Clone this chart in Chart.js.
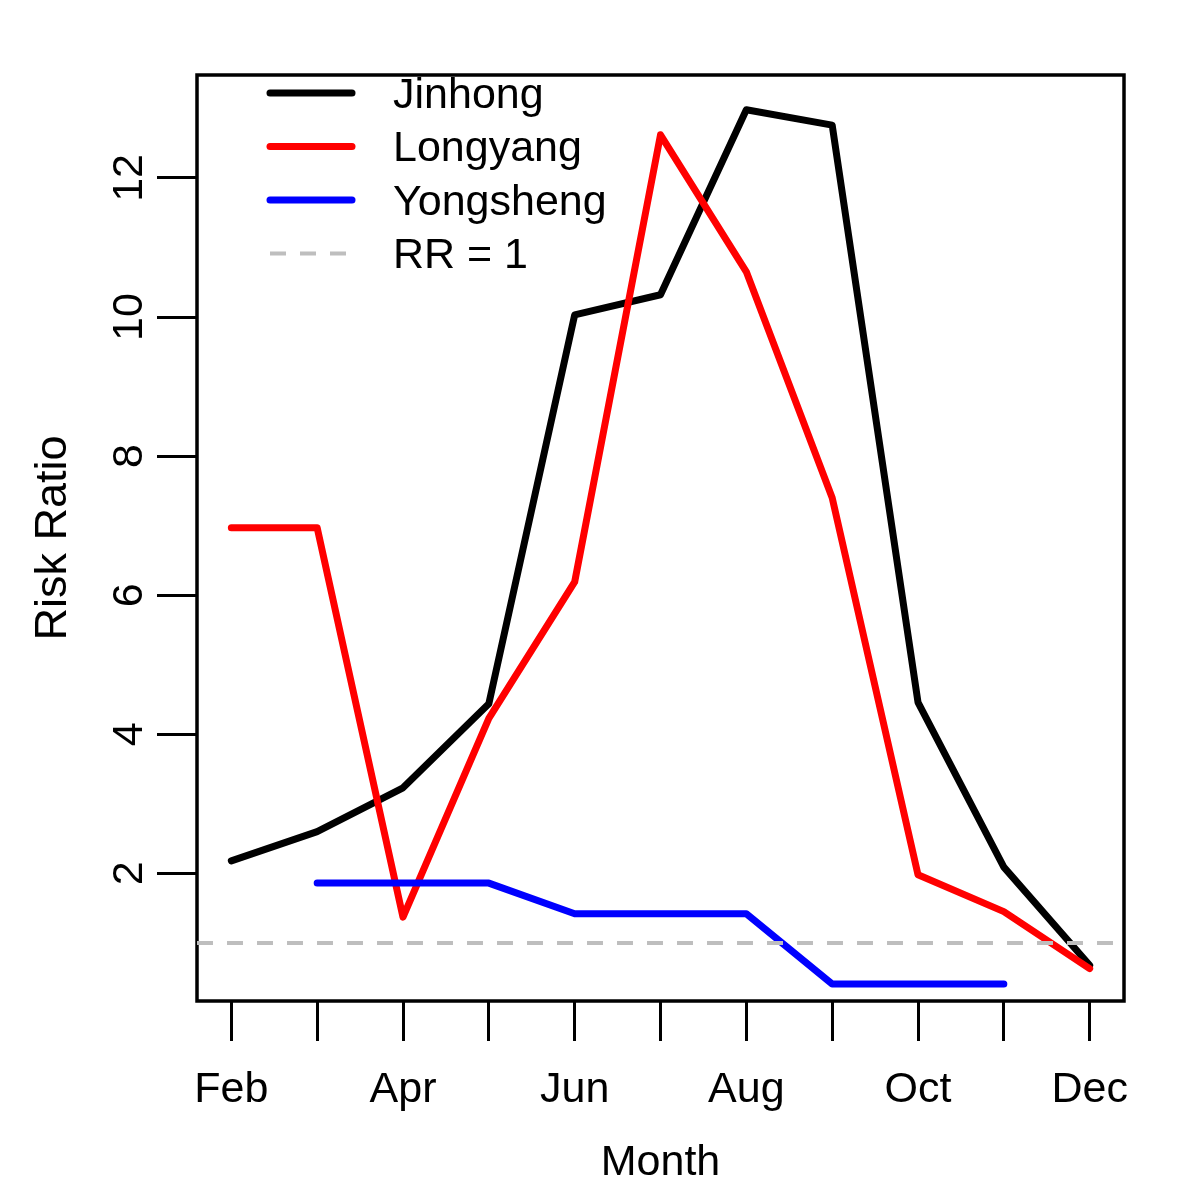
<!DOCTYPE html>
<html><head><meta charset="utf-8">
<script src="https://cdn.jsdelivr.net/npm/chart.js@4/dist/chart.umd.min.js"></script>
<style>html,body{margin:0;padding:0;background:#fff}#wrap{width:1200px;height:1200px}</style>
</head><body><div id="wrap"><canvas id="c" width="1200" height="1200"></canvas></div>
<script>
const months = ["Feb","Mar","Apr","May","Jun","Jul","Aug","Sep","Oct","Nov","Dec"];
const monthLabelsShown = ["Feb","Apr","Jun","Aug","Oct","Dec"];
const jinhong   = [2.18, 2.60, 3.23, 4.44, 10.03, 10.32, 12.98, 12.76, 4.46, 2.09, 0.68];
const longyang  = [6.97, 6.97, 1.37, 4.23, 6.19, 12.62, 10.65, 7.40, 1.98, 1.45, 0.63];
const yongsheng = [null, 1.86, 1.86, 1.86, 1.42, 1.42, 1.42, 0.41, 0.41, 0.41, null];
const rrValue = 1;
const yTickValues = [2, 4, 6, 8, 10, 12];
const seriesNames = ["Jinhong", "Longyang", "Yongsheng", "RR = 1"];
const seriesColors = ["#000000", "#FF0000", "#0000FF", "#BEBEBE"];

const X_MIN = -0.4, X_MAX = months.length - 1 + 0.4;
const Y_MIN = 0.165, Y_MAX = 13.48;
const FONT = "'Liberation Sans', Arial, sans-serif";

const toXY = arr => arr.map((v, i) => ({x: i, y: v}));

const boxPlugin = {
  id: 'rbox',
  beforeDatasetsDraw(chart) {
    const {ctx, chartArea: a} = chart;
    ctx.save();
    ctx.strokeStyle = '#000';
    ctx.lineWidth = 3.5;
    ctx.strokeRect(a.left, a.top, a.right - a.left, a.bottom - a.top);
    ctx.restore();
  },
  afterDraw(chart) {
    const {ctx} = chart;
    const ys = chart.scales.y;
    ctx.save();
    ctx.fillStyle = '#000';
    ctx.font = "43px " + FONT;
    ctx.textAlign = 'center';
    ctx.textBaseline = 'middle';
    yTickValues.forEach(v => {
      const py = ys.getPixelForValue(v);
      ctx.save();
      ctx.translate(130, py);
      ctx.rotate(-Math.PI / 2);
      ctx.fillText(String(v), 0, 0);
      ctx.restore();
    });
    const lx1 = 270, lx2 = 352, tx = 393, y0 = 93, dy = 53.5;
    ctx.textAlign = 'left';
    ctx.font = "43px " + FONT;
    seriesNames.forEach((name, i) => {
      const yy = y0 + i * dy;
      ctx.save();
      ctx.strokeStyle = seriesColors[i];
      if (i === 3) {
        ctx.lineWidth = 4;
        ctx.lineCap = 'butt';
        ctx.setLineDash([16, 14]);
      } else {
        ctx.lineWidth = 7;
        ctx.lineCap = 'round';
      }
      ctx.beginPath();
      ctx.moveTo(lx1, yy);
      ctx.lineTo(lx2, yy);
      ctx.stroke();
      ctx.restore();
      ctx.fillStyle = '#000';
      ctx.fillText(name, tx, yy + 3);
    });
    ctx.restore();
  }
};

const lineDs = (label, data, color, order) => ({
  label, data, borderColor: color, backgroundColor: color,
  borderWidth: 7, pointRadius: 0, pointHoverRadius: 0, fill: false, tension: 0,
  borderCapStyle: 'round', borderJoinStyle: 'round', spanGaps: false, order
});

new Chart(document.getElementById('c'), {
  type: 'line',
  data: {
    datasets: [
      lineDs(seriesNames[0], toXY(jinhong), seriesColors[0], 4),
      lineDs(seriesNames[1], toXY(longyang), seriesColors[1], 3),
      lineDs(seriesNames[2], toXY(yongsheng), seriesColors[2], 2),
      Object.assign(lineDs(seriesNames[3], [{x: X_MIN, y: rrValue}, {x: X_MAX, y: rrValue}], seriesColors[3], 1),
        {borderWidth: 4, borderDash: [16, 14], borderCapStyle: 'butt'})
    ]
  },
  options: {
    responsive: false,
    animation: false,
    events: [],
    layout: {padding: {left: 0, top: 75, right: 76, bottom: 0}},
    plugins: {legend: {display: false}, tooltip: {enabled: false}, title: {display: false}},
    scales: {
      x: {
        type: 'linear', min: X_MIN, max: X_MAX,
        afterBuildTicks: s => { s.ticks = months.map((m, i) => ({value: i})); },
        afterFit: s => { s.height = 199; },
        grid: {display: true, drawOnChartArea: false, drawTicks: true, tickLength: 40, tickWidth: 3, tickColor: '#000'},
        border: {display: false},
        ticks: {
          autoSkip: false, maxRotation: 0, minRotation: 0, padding: 23, color: '#000',
          font: {family: FONT, size: 43},
          callback: v => (monthLabelsShown.includes(months[v]) ? months[v] : '')
        },
        title: {display: true, text: 'Month', color: '#000', font: {family: FONT, size: 43, lineHeight: 1}, padding: {top: 0, bottom: 15}}
      },
      y: {
        type: 'linear', min: Y_MIN, max: Y_MAX,
        afterBuildTicks: s => { s.ticks = yTickValues.map(v => ({value: v})); },
        afterFit: s => { s.width = 197; },
        grid: {display: true, drawOnChartArea: false, drawTicks: true, tickLength: 40, tickWidth: 3, tickColor: '#000'},
        border: {display: false},
        ticks: {display: false},
        title: {display: true, text: 'Risk Ratio', color: '#000', font: {family: FONT, size: 45, lineHeight: 1}, padding: {top: 31, bottom: 0}}
      }
    }
  },
  plugins: [boxPlugin]
});
</script></body></html>
